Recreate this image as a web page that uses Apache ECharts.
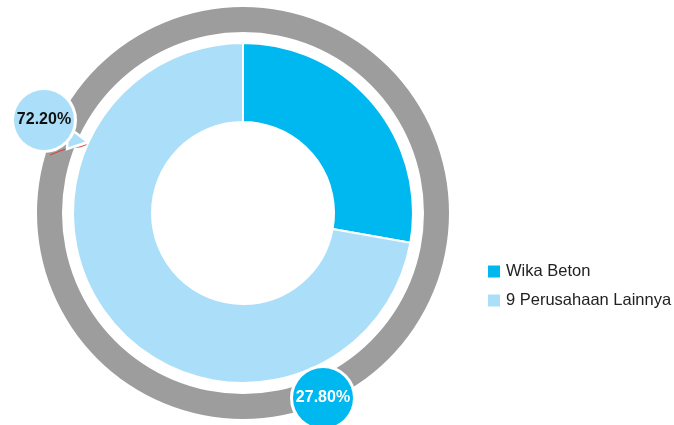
<!DOCTYPE html>
<html>
<head>
<meta charset="utf-8">
<style>
  html, body { margin: 0; padding: 0; background: #fff; }
  #chart { width: 674px; height: 425px; }
</style>
<script src="https://cdn.jsdelivr.net/npm/echarts@6/dist/echarts.min.js"></script>
</head>
<body>
<div id="chart"></div>
<script>
// Market share data
const categories = ['Wika Beton', '9 Perusahaan Lainnya'];
const shares = [27.8, 72.2];
const sliceColors = ['#00b8f0', '#abdff9'];
const labelColors = ['#ffffff', '#111111'];

const cx = 243, cy = 213;
// Label bubble offsets from the pie centre
const bubbleOffsets = [[80, 185], [-199, -93]];

const chart = echarts.init(document.getElementById('chart'));

chart.setOption({
  animation: false,
  legend: {
    orient: 'vertical',
    left: 486,
    top: 263,
    padding: 0,
    itemWidth: 14,
    itemHeight: 14,
    itemGap: 12,
    icon: 'rect',
    textStyle: {
      fontFamily: '"Liberation Sans", Arial, sans-serif',
      fontSize: 16.5,
      color: '#222'
    },
    data: categories
  },
  graphic: [
    {
      type: 'polyline',
      z: 3,
      shape: { points: [[50, 155], [60, 151], [72, 147], [80, 147], [88, 144]] },
      style: { stroke: '#e03a3a', lineWidth: 1, fill: null }
    },
    {
      // speech-bubble tail of the left label
      type: 'polygon',
      z: 3,
      shape: { points: [[68, 127], [88, 142], [67, 149]] },
      style: { fill: sliceColors[1], stroke: '#fff', lineWidth: 2.5 }
    },
    {
      // speech-bubble tail of the bottom label
      type: 'polygon',
      z: 3,
      shape: { points: [[298, 382], [302, 367], [318, 372]] },
      style: { fill: sliceColors[0], stroke: '#fff', lineWidth: 2.5 }
    }
  ],
  series: [
    {
      type: 'pie',
      z: 1,
      silent: true,
      center: [cx, cy],
      radius: [181, 206],
      label: { show: false },
      labelLine: { show: false },
      itemStyle: { color: '#9d9d9d' },
      data: [{ value: 1, name: '' }]
    },
    {
      type: 'pie',
      z: 4,
      center: [cx, cy],
      radius: [91, 170],
      startAngle: 90,
      clockwise: true,
      itemStyle: { borderColor: '#fff', borderWidth: 2 },
      labelLine: { show: false },
      label: {
        show: true,
        position: 'outside',
        formatter: p => p.value.toFixed(2) + '%',
        fontFamily: '"Liberation Sans", Arial, sans-serif',
        fontWeight: 'bold',
        fontSize: 16,
        width: 60,
        height: 60,
        lineHeight: 60,
        align: 'center',
        borderRadius: 33,
        borderColor: '#fff',
        borderWidth: 3
      },
      labelLayout: p => ({
        x: cx + bubbleOffsets[p.dataIndex][0],
        y: cy + bubbleOffsets[p.dataIndex][1],
        align: 'center',
        verticalAlign: 'middle'
      }),
      data: categories.map((name, i) => ({
        name,
        value: shares[i],
        itemStyle: { color: sliceColors[i] },
        label: { color: labelColors[i], backgroundColor: sliceColors[i] }
      }))
    }
  ]
});
</script>
</body>
</html>
